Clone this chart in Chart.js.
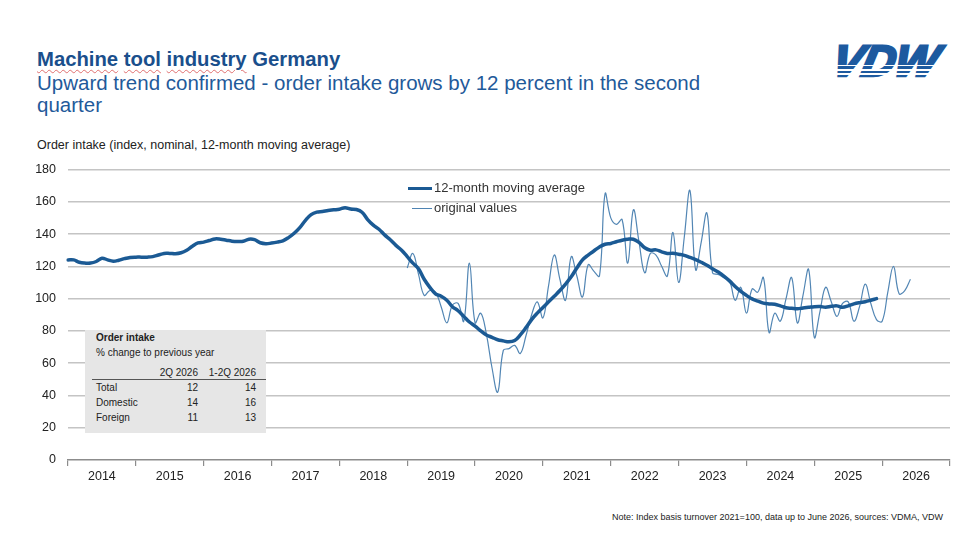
<!DOCTYPE html>
<html>
<head>
<meta charset="utf-8">
<script src="https://cdn.jsdelivr.net/npm/chart.js@4.4.0/dist/chart.umd.min.js"></script>
<style>
html,body{margin:0;padding:0;background:#fff;width:980px;height:560px;overflow:hidden;font-family:"Liberation Sans",Arial,sans-serif;}
#title{position:absolute;left:37px;top:47px;font-size:20.3px;font-weight:bold;color:#1a4f8c;line-height:24px;white-space:nowrap;}
.sp{text-decoration:underline wavy #e07070;text-decoration-thickness:1px;text-underline-offset:3px;}
#subtitle{position:absolute;left:37px;top:72px;font-size:20.5px;color:#1f5a9a;line-height:22px;white-space:nowrap;}
#ytitle{position:absolute;left:37px;top:138px;font-size:12.5px;color:#222;white-space:nowrap;}
#logo{position:absolute;left:828px;top:38px;font:italic bold 44px/46px "Liberation Sans",Arial,sans-serif;color:#1d5a9f;-webkit-text-stroke:2.6px #1d5a9f;letter-spacing:-0.5px;
 transform:skewX(-12deg) scaleX(1.04);transform-origin:left bottom;white-space:nowrap;}
.stripe{position:absolute;left:818px;width:135px;background:#fff;}
#wrap{position:absolute;left:0;top:150px;width:980px;height:340px;}
#legend{position:absolute;left:408px;top:178px;font-size:13px;color:#333;line-height:20px;}
#legend .row{display:flex;align-items:center;height:20px;}
#legend .ln{display:inline-block;width:24px;margin-right:2px;}
#note{position:absolute;right:37px;top:512px;font-size:9px;color:#222;white-space:nowrap;}
#tbl{position:absolute;left:85px;top:330px;width:181px;height:103px;background:#e6e6e6;color:#222;font-size:10px;}
#tbl div{position:absolute;white-space:nowrap;line-height:12px;}
.r1{right:68px;text-align:right;}
.r2{right:10px;text-align:right;}
</style>
</head>
<body>
<div id="title"><span class="sp">Machine</span> <span class="sp">tool</span> <span class="sp">industry</span> Germany</div>
<div id="subtitle">Upward trend confirmed - order intake grows by 12 percent in the second<br>quarter</div>
<div id="ytitle">Order intake (index, nominal, 12-month moving average)</div>
<div id="logo">VDW</div>
<div class="stripe" style="top:64.5px;height:1.6px;"></div>
<div class="stripe" style="top:69px;height:1.6px;"></div>
<div class="stripe" style="top:73.3px;height:1.6px;"></div>
<div id="wrap"><canvas id="c"></canvas></div>
<div id="legend">
  <div class="row"><span class="ln" style="border-top:3.5px solid #1b5a94;"></span>12-month moving average</div>
  <div class="row"><span class="ln" style="border-top:1.2px solid #4f84b3;margin-left:4px;width:20px;"></span>original values</div>
</div>
<div id="tbl">
  <div style="left:11px;top:2px;font-weight:bold;">Order intake</div>
  <div style="left:11px;top:17px;">% change to previous year</div>
  <div class="r1" style="top:37px;">2Q 2026</div>
  <div class="r2" style="top:37px;">1-2Q 2026</div>
  <div style="left:7px;right:0;top:49px;height:0;border-top:1px solid #555;"></div>
  <div style="left:11px;top:52px;">Total</div><div class="r1" style="top:52px;">12</div><div class="r2" style="top:52px;">14</div>
  <div style="left:11px;top:67px;">Domestic</div><div class="r1" style="top:67px;">14</div><div class="r2" style="top:67px;">16</div>
  <div style="left:11px;top:82px;">Foreign</div><div class="r1" style="top:82px;">11</div><div class="r2" style="top:82px;">13</div>
</div>
<div id="note">Note: Index basis turnover 2021=100, data up to June 2026, sources: VDMA, VDW</div>
<script>
const years = [2014,2015,2016,2017,2018,2019,2020,2021,2022,2023,2024,2025,2026];
const yTickValues = [0,20,40,60,80,100,120,140,160,180];

// 12-month moving average, monthly from Jan 2014
const movingAverage = [
 124,124,122.5,122,122,123,125,124,123.2,123.8,124.8,125.5,
 125.7,125.7,125.7,126,127,128,128,127.8,128.4,130,132.5,134.5,
 135,136,137,136.8,136.2,135.6,135.4,135.5,136.8,136.5,134.6,134,
 134.4,135,135.8,137.8,140.5,144,148.5,152,153.6,154,154.6,155,
 155.4,156.3,155.5,155.2,153.5,149,145.5,143,139.5,136.5,133,130,
 126,122,118.5,112,107,103,101.5,99,95,92.5,89,85.5,
 83,80,77.5,76,74.5,73.8,73.2,74,77.5,82,87,91,
 94.5,98,101.5,105,109,113.5,119,124,127,129.5,132,133.7,
 134.2,135.2,136.2,136.8,136.8,134.8,131.5,130,130.2,129,128,128.1,
 127.5,126.8,125.5,124.2,122.5,120.7,118.5,116.5,114,111,107.5,104.5,
 102,99.8,98.5,97.2,96.7,96.5,95.5,94.3,94,93.7,94.2,94.6,
 95,95.1,94.7,95.2,95.5,94.6,95.5,96.7,97.5,98.1,99,100
];

// original monthly values, from Jan 2019 to Jun 2026
const originalFirstMonth = '2019-01';
const originalValues = [
 119,128,115,102,105,104,95,85,96,97,86,122,
 85,91,78,57,42,68,69,71,66,77,90,98,
 88,108,127,112,99,126,114,101,121,117,114,165,
 150,146,149,122,155,135,116,128,127,120,114,141,
 110,138,167,118,135,153,116,115,113,111,99,107,
 91,106,104,113,79,91,86,100,113,85,102,118,
 76,92,107,98,89,97,98,86,95,109,97,87,
 86,104,120,103,105,112
];

const categories = [];
years.forEach(y => { for (let m = 1; m <= 12; m++) categories.push(y + '-' + String(m).padStart(2,'0')); });
categories.push('2027-01');

const origStart = categories.indexOf(originalFirstMonth);
const originalSeries = categories.map((c, i) => (i >= origStart && i - origStart < originalValues.length) ? originalValues[i - origStart] : null);
const maSeries = categories.map((c, i) => i < movingAverage.length ? movingAverage[i] : null);

const FONT = '"Liberation Sans", Arial, sans-serif';

new Chart(document.getElementById('c'), {
  type: 'line',
  data: {
    labels: categories,
    datasets: [
      { label: '12-month moving average', data: maSeries, borderColor: '#1b5a94', borderWidth: 3.5, pointRadius: 0, tension: 0.4, spanGaps: false, borderCapStyle: 'round', borderJoinStyle: 'round' },
      { label: 'original values', data: originalSeries, borderColor: '#5286b4', borderWidth: 1.2, pointRadius: 0, tension: 0.4, spanGaps: false }
    ]
  },
  options: {
    responsive: true,
    maintainAspectRatio: false,
    animation: false,
    events: [],
    layout: { padding: { top: 16, right: 30, left: 0, bottom: 0 } },
    plugins: { legend: { display: false }, tooltip: { enabled: false } },
    scales: {
      x: {
        type: 'category',
        offset: false,
        afterFit: s => { s.height = 30; },
        border: { display: true, color: '#8c8c8c', width: 1.5 },
        grid: {
          drawOnChartArea: false,
          drawTicks: true,
          tickLength: 6,
          lineWidth: 1.2,
          color: ctx => (ctx.index === undefined || ctx.index % 12 === 0) ? '#8c8c8c' : 'rgba(0,0,0,0)'
        },
        ticks: {
          autoSkip: false,
          maxRotation: 0,
          minRotation: 0,
          padding: 3,
          color: '#222',
          font: { family: FONT, size: 12.5 },
          callback: (v, i) => (i % 12 === 6) ? String(years[Math.floor(i / 12)]) : ''
        }
      },
      y: {
        min: 0,
        max: 180,
        afterFit: s => { s.width = 68; },
        afterBuildTicks: s => { s.ticks = yTickValues.map(v => ({ value: v })); },
        border: { display: false },
        grid: {
          drawTicks: false,
          lineWidth: 1.5,
          color: ctx => (ctx.tick && ctx.tick.value === 0) ? 'rgba(0,0,0,0)' : '#c4c4c4'
        },
        ticks: { padding: 12, color: '#222', font: { family: FONT, size: 12.5 } }
      }
    }
  }
});
</script>
</body>
</html>
